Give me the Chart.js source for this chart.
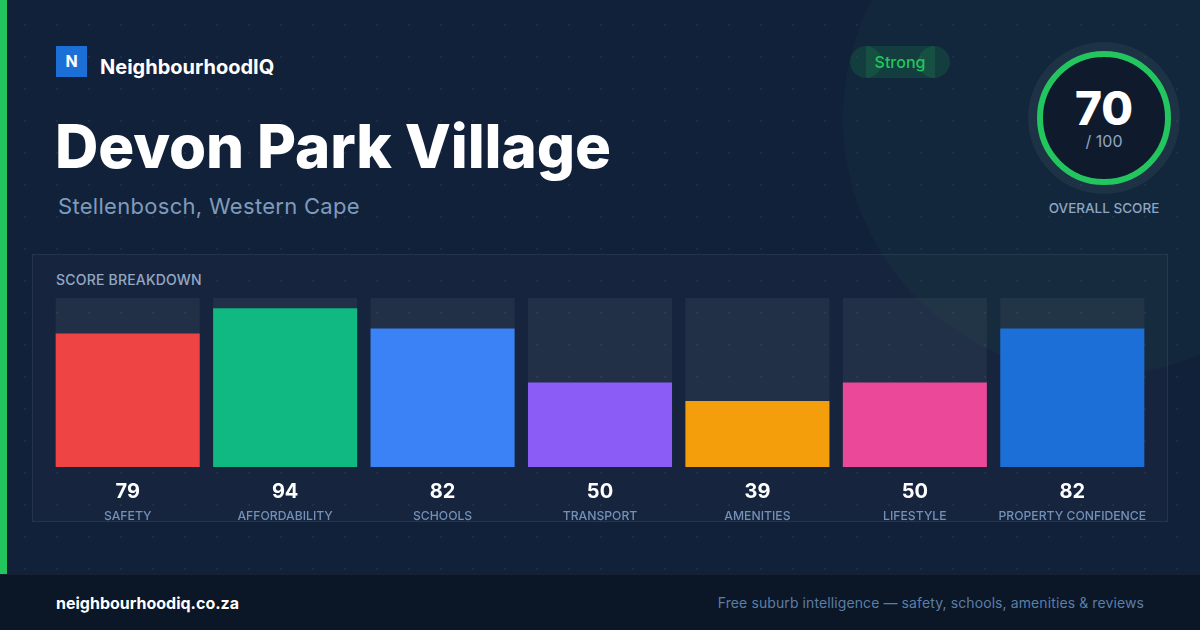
<!DOCTYPE html>
<html><head><meta charset="utf-8">
<script src="https://cdn.jsdelivr.net/npm/chart.js@4/dist/chart.umd.min.js"></script>
<style>
html,body{margin:0;padding:0;}
body{width:1200px;height:630px;overflow:hidden;position:relative;background:#12213a;font-family:Inter,"Noto Sans",sans-serif;}
.dots{position:absolute;left:0;top:0;width:1200px;height:574px;background-image:radial-gradient(circle at 1px 1px, rgba(255,255,255,0.05) 1px, transparent 1.6px);background-size:32px 32px;background-position:24px 24px;}
.deco{position:absolute;left:843px;top:-139px;width:514px;height:514px;border-radius:50%;background:rgba(34,197,94,0.045);}
.leftbar{position:absolute;left:0;top:0;width:7px;height:574px;background:#22c55e;}
.logo{position:absolute;left:56px;top:46px;width:31px;height:31px;background:#1d6fd8;color:#fff;font-weight:700;font-size:16px;line-height:31px;text-align:center;}
.brand{position:absolute;left:100px;top:55px;color:#fff;font-weight:700;font-size:20px;line-height:24px;}
.title{position:absolute;left:55px;top:110px;color:#fff;font-weight:800;font-size:60px;line-height:72px;letter-spacing:-0.1px;white-space:nowrap;}
.sub{position:absolute;left:58px;top:192px;color:#7f9bbb;font-size:22px;line-height:28px;letter-spacing:0.3px;}
.pill{position:absolute;left:850px;top:46px;width:100px;height:32px;}
.pill .c{position:absolute;top:0;width:32px;height:32px;border-radius:50%;background:rgba(34,197,94,0.14);}
.pill .r{position:absolute;top:0;left:16px;width:69px;height:32px;background:rgba(34,197,94,0.14);}
.pill .t{position:absolute;left:0;top:0;width:100px;height:32px;line-height:32px;text-align:center;color:#22c55e;font-size:16px;font-weight:500;}
.halo{position:absolute;left:1028px;top:42px;width:152px;height:152px;border-radius:50%;background:rgba(255,255,255,0.05);}
.ring{position:absolute;left:1037px;top:51px;width:122px;height:122px;border-radius:50%;border:6px solid #22c55e;background:#0f1b2c;}
.score{position:absolute;left:1037px;top:83px;width:134px;text-align:center;color:#fff;font-weight:800;font-size:46px;line-height:50px;}
.of{position:absolute;left:1037px;top:131px;width:134px;text-align:center;color:#8fa6c2;font-size:16px;line-height:20px;}
.ovl{position:absolute;left:1004px;top:199px;width:200px;text-align:center;color:#8ea6c3;font-size:13.5px;line-height:18px;font-weight:500;}
.panel{position:absolute;left:32px;top:254px;width:1134px;height:266px;background:rgba(255,255,255,0.02);border:1px solid rgba(255,255,255,0.07);}
.ph{position:absolute;left:56px;top:271px;color:#94a8c4;font-size:14px;line-height:18px;font-weight:500;letter-spacing:0.2px;}
#c{position:absolute;left:49px;top:298px;}
.footer{position:absolute;left:0;top:574px;width:1200px;height:56px;background:#0b1626;border-top:1px solid rgba(255,255,255,0.05);box-sizing:border-box;}
.fl{position:absolute;left:56px;top:592px;color:#fff;font-weight:700;font-size:16px;line-height:22px;}
.fr{position:absolute;right:56px;top:593px;color:#5b7ea6;font-size:14px;line-height:20px;letter-spacing:0.1px;}
</style></head>
<body>
<div class="deco"></div>
<div class="dots"></div>
<div class="leftbar"></div>
<div class="logo">N</div>
<div class="brand">NeighbourhoodIQ</div>
<div class="title">Devon Park Village</div>
<div class="sub">Stellenbosch, Western Cape</div>
<div class="pill"><div class="c" style="left:0"></div><div class="r"></div><div class="c" style="left:68px"></div><div class="t">Strong</div></div>
<div class="halo"></div>
<div class="ring"></div>
<div class="score" id="score"></div>
<div class="of">/ 100</div>
<div class="ovl">OVERALL SCORE</div>
<div class="panel"></div>
<div class="ph">SCORE BREAKDOWN</div>
<canvas id="c" width="1102" height="232"></canvas>
<div class="footer"></div>
<div class="fl">neighbourhoodiq.co.za</div>
<div class="fr">Free suburb intelligence — safety, schools, amenities &amp; reviews</div>
<script>
const categories = ["SAFETY","AFFORDABILITY","SCHOOLS","TRANSPORT","AMENITIES","LIFESTYLE","PROPERTY CONFIDENCE"];
const scores = [79, 94, 82, 50, 39, 50, 82];
const trackMax = [100, 100, 100, 100, 100, 100, 100];
const barColors = ["#ef4444","#10b981","#3b82f6","#8b5cf6","#f59e0b","#ec4899","#1d6fd8"];
const overallScore = 70;

document.getElementById('score').textContent = overallScore;

const labelPlugin = {
  id: 'labels',
  afterDatasetsDraw(chart) {
    const ctx = chart.ctx, xs = chart.scales.x, area = chart.chartArea;
    ctx.save();
    ctx.textAlign = 'center';
    ctx.textBaseline = 'middle';
    categories.forEach((cat, i) => {
      const x = xs.getPixelForValue(i);
      ctx.fillStyle = '#ffffff';
      ctx.font = '700 20px Inter, sans-serif';
      ctx.fillText(String(scores[i]), x, area.bottom + 25);
      ctx.fillStyle = '#7391b8';
      ctx.font = '500 12.2px Inter, sans-serif';
      ctx.fillText(cat, x, area.bottom + 49);
    });
    ctx.restore();
  }
};

new Chart(document.getElementById('c'), {
  type: 'bar',
  data: {
    labels: categories,
    datasets: [
      { data: scores, backgroundColor: barColors, grouped: false, borderWidth: 0 },
      { data: trackMax, backgroundColor: 'rgba(255,255,255,0.05)', grouped: false, borderWidth: 0 }
    ]
  },
  options: {
    responsive: false,
    animation: false,
    devicePixelRatio: 1,
    layout: { padding: { top: 0, bottom: 63, left: 0, right: 0 } },
    barPercentage: 1,
    categoryPercentage: 0.915,
    plugins: { legend: { display: false }, tooltip: { enabled: false } },
    scales: {
      x: { display: false },
      y: { display: false, min: 0, max: 100 }
    }
  },
  plugins: [labelPlugin]
});
</script>
</body></html>
